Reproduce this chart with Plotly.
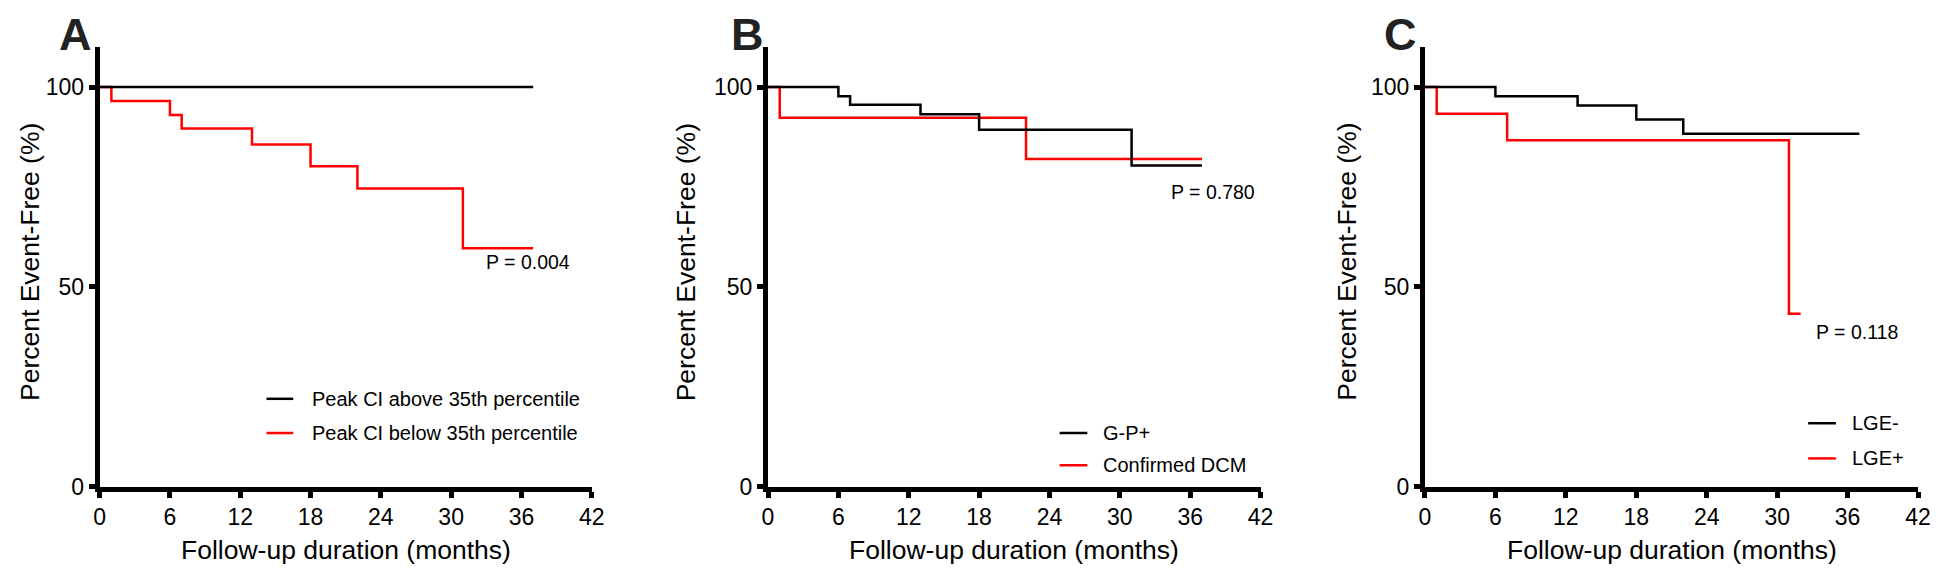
import plotly.graph_objects as go

# ---------------- data ----------------
months_ticks = [0, 6, 12, 18, 24, 30, 36, 42]
pct_ticks = [0, 50, 100]

# Panel A
a_black_t = [0, 37]
a_black_s = [100, 100]
a_red_t = [0, 1, 6, 7, 13, 18, 22, 31, 37]
a_red_s = [100, 96.5, 93.0, 89.6, 85.6, 80.2, 74.6, 59.7, 59.7]
a_names = ["Peak CI above 35th percentile", "Peak CI below 35th percentile"]
a_p = "P = 0.004"

# Panel B
b_black_t = [0, 6, 7, 13, 18, 31, 37]
b_black_s = [100, 97.7, 95.6, 93.2, 89.3, 80.4, 80.4]
b_red_t = [0, 1, 22, 37]
b_red_s = [100, 92.3, 82.0, 82.0]
b_names = ["G-P+", "Confirmed DCM"]
b_p = "P = 0.780"

# Panel C
c_black_t = [0, 6, 13, 18, 22, 37]
c_black_s = [100, 97.7, 95.4, 91.9, 88.3, 88.3]
c_red_t = [0, 1, 7, 31, 32]
c_red_s = [100, 93.3, 86.7, 43.3, 43.3]
c_names = ["LGE-", "LGE+"]
c_p = "P = 0.118"

panel_letters = ["A", "B", "C"]

# ---------------- layout helpers ----------------
OFF = 8                      # default page (body) margin of the html page
W, H = 1946 - 2 * OFF, 582 - 2 * OFF   # page incl. margins == window size
FONT = "Liberation Sans, Arial, sans-serif"


def px(x):
    return (x - OFF) / W


def py(y):
    return 1 - (y - OFF) / H


# plot-area pixel boxes (left, right), in window pixels
x_boxes = [(94.5, 591.5), (769.5, 1267), (1433, 1931)]
y_top, y_bot = 48, 498

fig = go.Figure()

panels = [
    (a_black_t, a_black_s, a_red_t, a_red_s, a_names, a_p),
    (b_black_t, b_black_s, b_red_t, b_red_s, b_names, b_p),
    (c_black_t, c_black_s, c_red_t, c_red_s, c_names, c_p),
]

for i, (bt, bs, rt, rs, names, ptxt) in enumerate(panels):
    sfx = "" if i == 0 else str(i + 1)
    xa, ya = "x" + sfx, "y" + sfx
    fig.add_trace(go.Scatter(x=rt, y=rs, mode="lines", line_shape="hv",
                             line=dict(color="#ff0000", width=2.5), name=names[1],
                             xaxis=xa, yaxis=ya, showlegend=False))
    fig.add_trace(go.Scatter(x=bt, y=bs, mode="lines", line_shape="hv",
                             line=dict(color="#000000", width=2.5), name=names[0],
                             xaxis=xa, yaxis=ya, showlegend=False))
    l, r = x_boxes[i]
    axis_common = dict(showline=True, linewidth=5, linecolor="black", ticks="outside",
                       tickwidth=5, tickcolor="black", showgrid=False, zeroline=False,
                       tickfont=dict(family=FONT, size=23, color="black"), mirror=False)
    fig.layout["xaxis" + sfx] = dict(
        domain=[px(l), px(r)], range=[0, 42], tickvals=months_ticks, ticklen=6,
        anchor=ya, **axis_common)
    fig.layout["yaxis" + sfx] = dict(
        domain=[py(y_bot), py(y_top)], range=[0, 110], tickvals=pct_ticks, ticklen=6,
        anchor=xa, **axis_common)

# ---------------- annotations ----------------
ann = []
# panel letters (top-anchored at the page top)
letter_x = [70, 748.5, 1408.5]
for x, L in zip(letter_x, panel_letters):
    ann.append(dict(x=px(x), y=1, xref="paper", yref="paper", text="<b>%s</b>" % L,
                    showarrow=False, xanchor="center", yanchor="top", borderpad=0,
                    font=dict(family=FONT, size=45, color="#222222")))
# axis titles
ytitle_x = [13, 687, 1354]
for i, (l, r) in enumerate(x_boxes):
    ann.append(dict(x=px((l + r) / 2), y=py(563), xref="paper", yref="paper",
                    text="Follow-up duration (months)", showarrow=False,
                    xanchor="center", yanchor="middle", borderpad=0,
                    font=dict(family=FONT, size=26.5, color="black")))
    if i == 0:
        yx, yxa = px(OFF), "left"
    else:
        yx, yxa = px(ytitle_x[i]), "center"
    ann.append(dict(x=yx, y=py(268), xref="paper", yref="paper",
                    text="Percent Event-Free (%)", showarrow=False, textangle=-90,
                    xanchor=yxa, yanchor="middle", borderpad=0,
                    font=dict(family=FONT, size=26.5, color="black")))
# p values (left edge, center y)
p_pos = [(482.7, 268), (1174, 196), (1826, 340)]
for (x, y), (_, _, _, _, _, ptxt) in zip(p_pos, panels):
    ann.append(dict(x=px(x), y=py(y), xref="paper", yref="paper", text=ptxt,
                    showarrow=False, xanchor="left", yanchor="middle",
                    font=dict(family=FONT, size=19.5, color="black")))

# legends (manual): line sample x0,x1, text x, y rows
shapes = []
leg = [((263, 290), 306.5, (408, 443)),
       ((1064, 1092), 1106, (443, 476)),
       ((1820, 1848), 1862, (433, 469))]
for (xr, tx, ys), (_, _, _, _, names, _) in zip(leg, panels):
    for color, y, name in zip(["black", "#ff0000"], ys, names):
        shapes.append(dict(type="line", xref="paper", yref="paper",
                           x0=px(xr[0]), x1=px(xr[1]), y0=py(y), y1=py(y),
                           line=dict(color=color, width=2.5)))
        ann.append(dict(x=px(tx), y=py(y), xref="paper", yref="paper", text=name,
                        showarrow=False, xanchor="left", yanchor="middle",
                        font=dict(family=FONT, size=20, color="black")))

fig.update_layout(width=W, height=H, margin=dict(l=0, r=0, t=0, b=0),
                  paper_bgcolor="white", plot_bgcolor="white",
                  annotations=ann, shapes=shapes, showlegend=False)

fig.write_html("out.html")
